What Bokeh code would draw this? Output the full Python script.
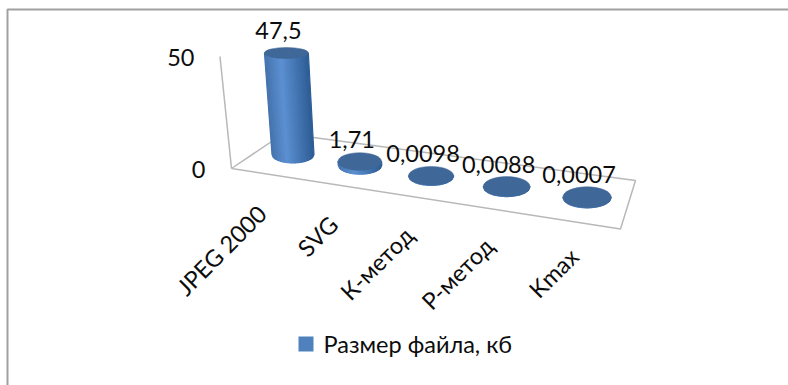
import math
from bokeh.plotting import figure
from bokeh.models import Range1d
from bokeh.core.properties import value
from bokeh.embed import file_html
from bokeh.resources import INLINE

categories = ["JPEG 2000", "SVG", "К-метод", "Р-метод", "Kmax"]
sizes = [47.5, 1.71, 0.0098, 0.0088, 0.0007]
size_labels = ["47,5", "1,71", "0,0098", "0,0088", "0,0007"]
axis_ticks = [0, 50]
series_name = "Размер файла, кб"

FONT = value("Lato")
FONT_SIZE = "23.5px"
TEXT = "#0c0c0c"
TOP_COLOR = "#3f6797"
FRAME = "#a0a0a0"
FLOOR = "#b8b8b8"


# 3D projection of (category slot, value) onto the canvas
def base_point(i):
    return 292.5 + 65.1 * i / (1 - 0.0286 * i), 154 + 10.7 * i


def top_point(i, v):
    x, y = base_point(i)
    return x - 0.139 * v, y - 2.137 * v


def radii(i, v):
    return 21 + 0.8 * i + 0.02 * v, 8.4 + 0.53 * i - 0.06 * v


def mix(a, b, t):
    ca = [int(a[k:k + 2], 16) for k in (1, 3, 5)]
    cb = [int(b[k:k + 2], 16) for k in (1, 3, 5)]
    return "#" + "".join(f"{round(p + (q - p) * t):02x}" for p, q in zip(ca, cb))


def shade(u):
    # lit slightly left of centre, falling off towards both edges
    if u < -0.25:
        return mix("#4472ac", "#5c90d2", (u + 1) / 0.75)
    return mix("#5c90d2", "#2e5d95", (u + 0.25) / 1.25)


p = figure(width=788, height=385, output_backend="svg", toolbar_location=None,
           x_range=Range1d(0, 788), y_range=Range1d(385, 0),
           min_border=0, outline_line_color=None, background_fill_color="white")
p.axis.visible = False
p.grid.visible = False

# chart-area border: only the left and top edges show
p.line([7, 7, 788], [385, 9, 9], line_color=FRAME, line_width=2)

# tilted value axis and floor outline
p.line([231, 219.5], [168, 56], line_color=FLOOR, line_width=1.5)
p.line([231, 283, 635, 620, 231], [168, 133, 180, 228.5, 168], line_color=FLOOR, line_width=1.5)

# cylinders: shaded body strips, then the dark cap
STRIPS = 30
for i, v in enumerate(sizes):
    bx, by = base_point(i)
    tx, ty = top_point(i, v)
    brx, bry = radii(i, 0)
    trx, try_ = radii(i, v)
    xs, ys, colors = [], [], []
    for k in range(STRIPS):
        u0 = -1 + 2 * k / STRIPS
        u1 = -1 + 2 * (k + 1) / STRIPS
        xs.append([tx + u0 * trx, tx + u1 * trx, bx + u1 * brx, bx + u0 * brx])
        ys.append([ty, ty, by + bry * math.sqrt(max(0, 1 - u1 * u1)),
                   by + bry * math.sqrt(max(0, 1 - u0 * u0))])
        colors.append(shade((u0 + u1) / 2))
    p.patches(xs, ys, fill_color=colors, line_color=colors, line_width=1.2)
    p.ellipse([tx], [ty], width=[2 * trx], height=[2 * try_],
              fill_color=TOP_COLOR, line_color=TOP_COLOR, line_width=0.5)

# value labels above each cap
for i, (v, lab) in enumerate(zip(sizes, size_labels)):
    x, y = top_point(i, v)
    p.text([x - 8], [y - 22.5], text=[lab], text_font=FONT, text_font_size=FONT_SIZE,
           text_color=TEXT, text_align="center", text_baseline="middle")

# value-axis tick labels follow the axis lean
for t in axis_ticks:
    p.text([205 - 11 * t / 50], [169 - 112 * t / 50], text=[str(t)], text_font=FONT,
           text_font_size=FONT_SIZE, text_color=TEXT,
           text_align="right", text_baseline="middle")

# category labels, rotated 45 degrees and anchored at their end
for i, c in enumerate(categories):
    x, y = base_point(i)
    p.text([x - 31 + 4.5 * i], [y + 55], text=[c], text_font=FONT, text_font_size=FONT_SIZE,
           text_color=TEXT, text_align="right", text_baseline="middle",
           angle=math.pi / 4)

# legend
p.rect([305.5], [343.5], width=[15], height=[15], fill_color="#4f81bd", line_color=None)
p.text([323], [343], text=[series_name], text_font=FONT, text_font_size=FONT_SIZE,
       text_color=TEXT, text_align="left", text_baseline="middle")

open("out.html", "w").write(file_html(p, INLINE))
